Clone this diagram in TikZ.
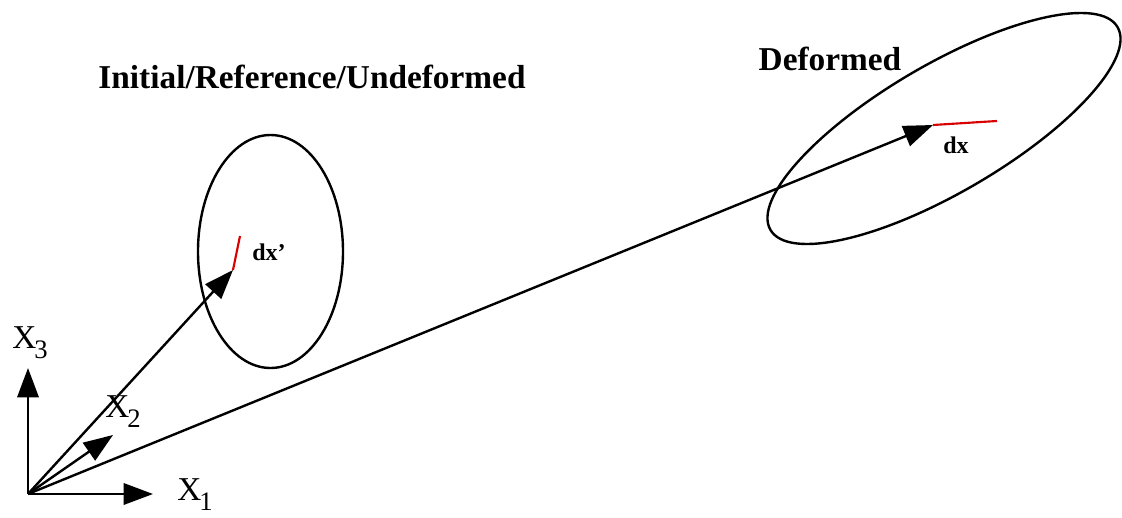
\documentclass[tikz,border=0pt]{standalone}
\usepackage{fontspec}
\setmainfont{Liberation Serif}
\usetikzlibrary{arrows.meta}
\newcommand{\axlab}[2]{#1\kern-1.5pt\raisebox{-8pt}{\fontsize{20}{20}\selectfont #2}}

\begin{document}
\begin{tikzpicture}[x=0.75pt, y=-0.75pt,
    vec/.style={-{Triangle[length=22pt,width=16pt]}, line width=1.8pt},
    body/.style={line width=1.8pt},
    elem/.style={red!85!black, line width=1.6pt},
    axlabel/.style={font=\fontsize{25}{25}\selectfont, inner sep=0pt, anchor=base west},
    title/.style={font=\fontsize{25}{25}\selectfont\bfseries, inner sep=0pt, anchor=base},
    dlabel/.style={font=\fontsize{18}{18}\selectfont\bfseries, inner sep=0pt, anchor=base west}]
\useasboundingbox (0,0) rectangle (1122,518);
% points
\coordinate (O) at (28,494);
\coordinate (e1) at (153,494);
\coordinate (e2) at (113,435);
\coordinate (e3) at (28,368);
\coordinate (P) at (233,270);
\coordinate (Q) at (240,236);
\coordinate (p) at (933,125);
\coordinate (q) at (997,121);
% bodies
\draw[body] (270.5,251.5) ellipse [x radius=72.5, y radius=116.5];
\draw[body, rotate around={30.3:(944,128.5)}] (944,128.5) ellipse [x radius=201, y radius=64];
% axes
\draw[vec] (O) -- (e1);
\draw[vec] (O) -- (e2);
\draw[vec] (O) -- (e3);
% position vectors
\draw[vec] (O) -- (P);
\draw[vec] (O) -- (p);
% line elements
\draw[elem] (P) -- (Q);
\draw[elem] (p) -- (q);
% labels
\node[axlabel] (l1) at (177,500) {\axlab{X}{1}};
\node[axlabel] (l2) at (105,417) {\axlab{X}{2}};
\node[axlabel] (l3) at (12,348) {\axlab{X}{3}};
\node[title] (undef) at (312,88) {Initial/Reference/Undeformed};
\node[title] (def) at (830,70) {Deformed};
\node[dlabel] (dxr) at (252,260) {dx'};
\node[dlabel] (dxd) at (943,153) {dx};
\end{tikzpicture}
\end{document}
